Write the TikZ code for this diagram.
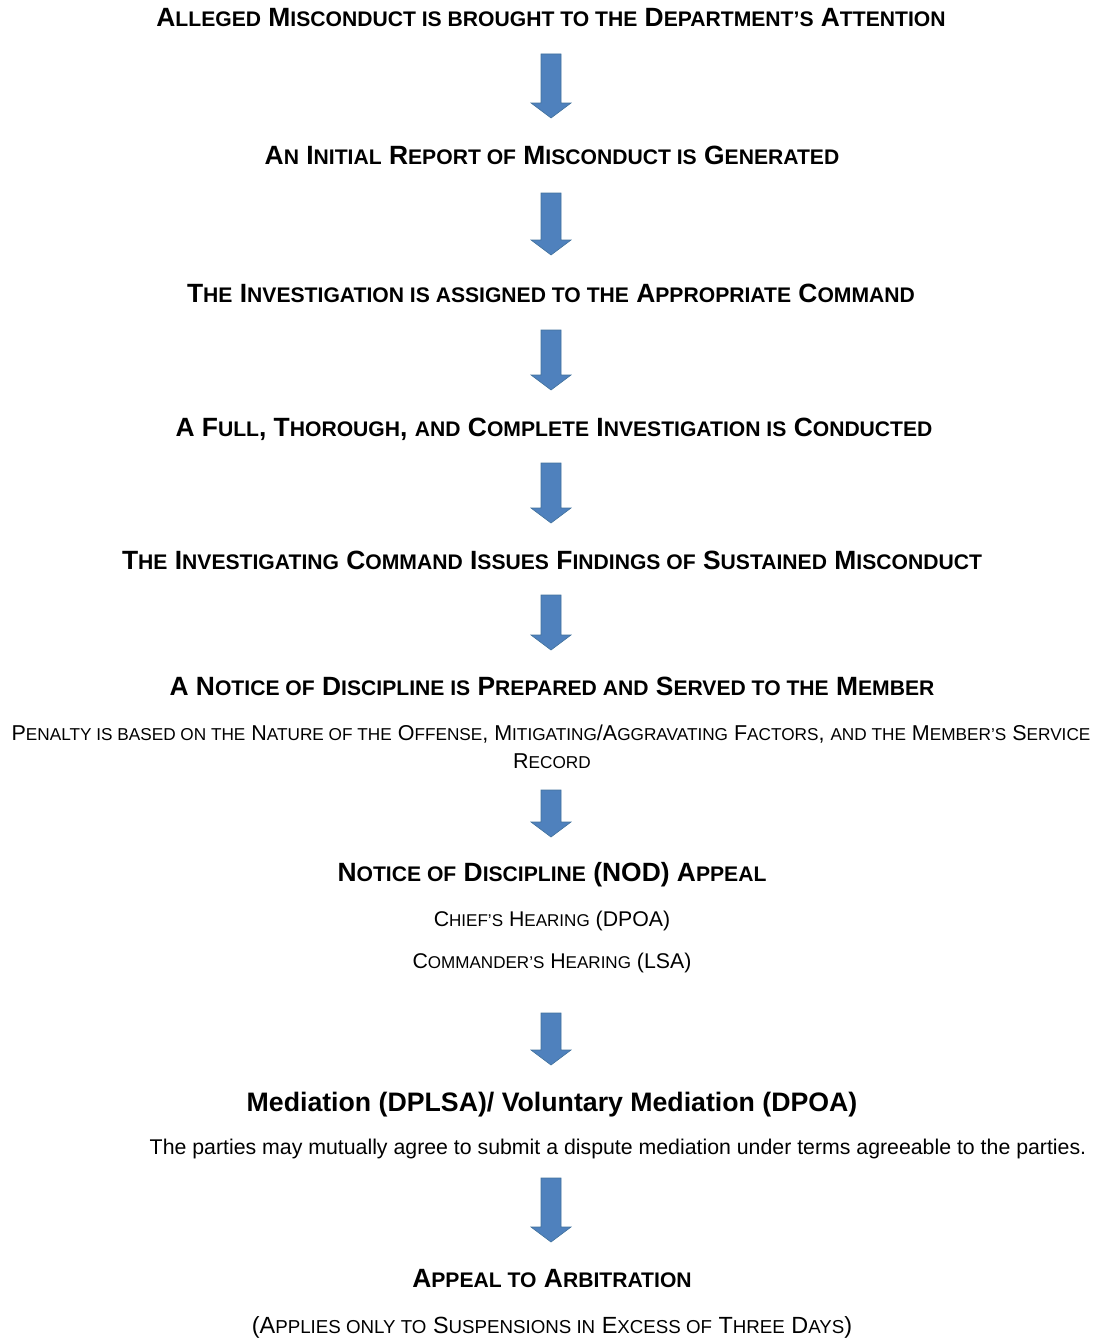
\documentclass[tikz,border=0pt]{standalone}
\usepackage{fontspec}
\setmainfont{Liberation Sans}
\usetikzlibrary{calc}

\definecolor{arrowblue}{HTML}{4F81BD}
\definecolor{arrowedge}{HTML}{41719C}

% small capitals made by hand (the font has none)
\makeatletter
\newcommand\SC[1]{{\fontsize{\the\dimexpr\f@size pt*4/5\relax}{0pt}\selectfont\MakeUppercase{#1}}}
\makeatother

\tikzset{
	head/.style={anchor=base, font=\bfseries\fontsize{26.4}{30}\selectfont},
	note/.style={anchor=base, font=\fontsize{21.5}{25}\selectfont},
	medhead/.style={anchor=base, font=\bfseries\fontsize{26.7}{30}\selectfont},
	para/.style={anchor=base, font=\fontsize{21.3}{25}\selectfont},
	blockarrow/.style={fill=arrowblue, draw=arrowedge, line width=.6pt,
		to path={($(\tikztostart)+(-10,0)$) -- ($(\tikztotarget)+(-10,-15)$)
			-- ($(\tikztotarget)+(-20,-15)$) -- (\tikztotarget)
			-- ($(\tikztotarget)+(20,-15)$) -- ($(\tikztotarget)+(10,-15)$)
			-- ($(\tikztostart)+(10,0)$) -- cycle}}
}

\begin{document}
\begin{tikzpicture}[x=1pt,y=-1pt]

	\useasboundingbox (0,0) rectangle (1100,1338);

	\node[head] (t1) at (551,27) {A\SC{lleged} M\SC{isconduct is brought to the} D\SC{epartment’s} A\SC{ttention}};
	\node[head] (t2) at (552,164) {A\SC{n} I\SC{nitial} R\SC{eport of} M\SC{isconduct is} G\SC{enerated}};
	\node[head] (t3) at (551,302) {T\SC{he} I\SC{nvestigation is assigned to the} A\SC{ppropriate} C\SC{ommand}};
	\node[head] (t4) at (554,436) {A F\SC{ull}, T\SC{horough}, \SC{and} C\SC{omplete} I\SC{nvestigation is} C\SC{onducted}};
	\node[head] (t5) at (552,569) {T\SC{he} I\SC{nvestigating} C\SC{ommand} I\SC{ssues} F\SC{indings of} S\SC{ustained} M\SC{isconduct}};
	\node[head] (t6) at (552,695) {A N\SC{otice of} D\SC{iscipline is} P\SC{repared and} S\SC{erved to the} M\SC{ember}};
	\node[note] (pen1) at (551,740) {P\SC{enalty is based on the} N\SC{ature of the} O\SC{ffense}, M\SC{itigating}/A\SC{ggravating} F\SC{actors}, \SC{and the} M\SC{ember’s} S\SC{ervice}};
	\node[note] (pen2) at (552,768) {R\SC{ecord}};
	\node[head] (t7) at (552,881) {N\SC{otice of} D\SC{iscipline} (NOD) A\SC{ppeal}};
	\node[note, font=\fontsize{21.3}{25}\selectfont] (chief) at (552,926) {C\SC{hief’s} H\SC{earing} (DPOA)};
	\node[note, font=\fontsize{21.3}{25}\selectfont] (cmdr) at (552,968) {C\SC{ommander’s} H\SC{earing} (LSA)};
	\node[medhead] (t8) at (552,1111) {Mediation (DPLSA)/ Voluntary Mediation (DPOA)};
	\node[para] (parties) at (618,1154) {The parties may mutually agree to submit a dispute mediation under terms agreeable to the parties.};
	\node[head] (t9) at (552,1287) {A\SC{ppeal to} A\SC{rbitration}};
	\node[note, font=\fontsize{23.4}{27}\selectfont] (t10) at (552,1333) {(A\SC{pplies only to} S\SC{uspensions in} E\SC{xcess of} T\SC{hree} D\SC{ays})};

	% arrow ends
	\coordinate (a1) at (551,54);   \coordinate (b1) at (551,118);
	\coordinate (a2) at (551,193);  \coordinate (b2) at (551,255);
	\coordinate (a3) at (551,330);  \coordinate (b3) at (551,390);
	\coordinate (a4) at (551,463);  \coordinate (b4) at (551,523);
	\coordinate (a5) at (551,595);  \coordinate (b5) at (551,650);
	\coordinate (a6) at (551,790);  \coordinate (b6) at (551,837);
	\coordinate (a7) at (551,1013); \coordinate (b7) at (551,1065);
	\coordinate (a8) at (551,1178); \coordinate (b8) at (551,1242);

	\foreach \i in {1,...,8}
		\draw[blockarrow] (a\i) to (b\i);

\end{tikzpicture}
\end{document}
